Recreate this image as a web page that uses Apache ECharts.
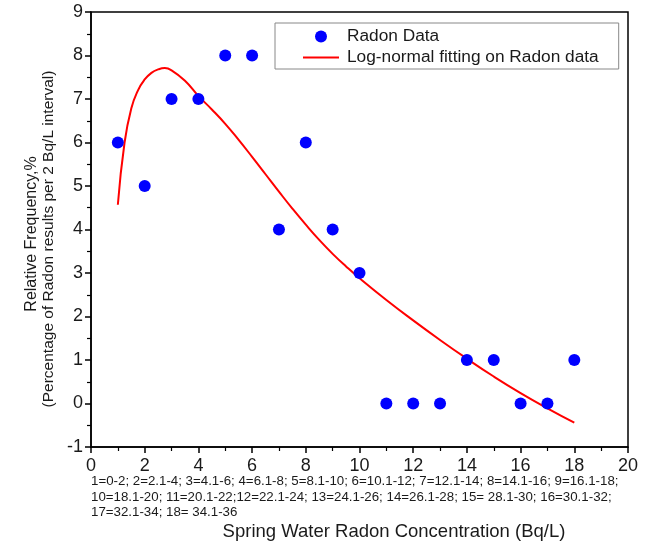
<!DOCTYPE html>
<html>
<head>
<meta charset="utf-8">
<script src="https://cdn.jsdelivr.net/npm/echarts@6/dist/echarts.min.js"></script>
<style>
  html, body { margin: 0; padding: 0; background: #fff; }
  #chart { width: 649px; height: 545px; }
</style>
</head>
<body>
<div id="chart"></div>
<script>
// radon data points (x = interval index, y = relative frequency %)
const binIndex = [1, 2, 3, 4, 5, 6, 7, 8, 9, 10, 11, 12, 13, 14, 15, 16, 17, 18]
const radonFreq = [6, 5, 7, 7, 8, 8, 4, 6, 4, 3, 0, 0, 0, 1, 1, 0, 0, 1]

// log-normal fit
const fitX = [1, 1.25, 1.5, 1.75, 2, 2.25, 2.5, 2.75, 3, 3.5, 4, 4.5, 5, 5.5, 6, 6.5, 7, 7.5, 8, 8.5, 9, 9.5, 10, 11, 12, 13, 14, 15, 16, 17, 18]
const fitY = [4.57, 6.0, 6.78, 7.2, 7.45, 7.6, 7.68, 7.71, 7.66, 7.42, 7.07, 6.76, 6.43, 6.06, 5.67, 5.27, 4.87, 4.48, 4.11, 3.76, 3.44, 3.15, 2.88, 2.38, 1.91, 1.46, 1.03, 0.62, 0.24, -0.11, -0.44]

const yTitle = ["Relative Frequency,%", "(Percentage of Radon results per 2 Bq/L interval)"]
const xTitle = "Spring Water Radon Concentration (Bq/L)"
const footnoteLines = [
  "1=0-2; 2=2.1-4; 3=4.1-6; 4=6.1-8; 5=8.1-10; 6=10.1-12; 7=12.1-14; 8=14.1-16; 9=16.1-18;",
  "10=18.1-20; 11=20.1-22;12=22.1-24; 13=24.1-26; 14=26.1-28; 15= 28.1-30; 16=30.1-32;",
  "17=32.1-34; 18= 34.1-36"
]

const FONT = "Liberation Sans, Arial, sans-serif"
const myChart = echarts.init(document.getElementById("chart"))

const axisCommon = {
  axisLine: { show: true, onZero: false, lineStyle: { color: "#000", width: 1.5 } },
  axisTick: { show: true, inside: false, length: 6, lineStyle: { color: "#000", width: 1.5 } },
  minorTick: { show: true, splitNumber: 2, length: 4, lineStyle: { color: "#000", width: 1.2 } },
  splitLine: { show: false },
  axisLabel: { color: "#1a1a1a", fontSize: 18, fontFamily: FONT }
}

myChart.setOption({
  backgroundColor: "#fff",
  animation: false,
  grid: { left: 91, right: 21, top: 12, bottom: 98, show: true, borderColor: "#000", borderWidth: 1.5 },
  legend: {
    left: 275, top: 23,
    orient: "vertical",
    itemWidth: 36, itemHeight: 12, itemGap: 4,
    padding: [5, 20, 3, 28],
    borderColor: "#888", borderWidth: 1,
    textStyle: { fontSize: 17.3, color: "#1a1a1a", fontFamily: FONT, padding: [0, 0, 0, 3] },
    data: [
      { name: "Radon Data", icon: "circle" },
      { name: "Log-normal fitting on Radon data", icon: "path://M0,0 L36,0 L36,2.2 L0,2.2 Z" }
    ]
  },
  xAxis: Object.assign({}, axisCommon, {
    type: "value", min: 0, max: 20, interval: 2,
    axisLabel: Object.assign({}, axisCommon.axisLabel, { margin: 10 })
  }),
  yAxis: Object.assign({}, axisCommon, {
    type: "value", min: -1, max: 9, interval: 1,
    axisLabel: Object.assign({}, axisCommon.axisLabel, { margin: 8 })
  }),
  graphic: [
    {
      type: "text", x: 32, y: 234, rotation: Math.PI / 2,
      style: { text: yTitle[0], fill: "#1a1a1a", font: "16px " + FONT, align: "center", verticalAlign: "middle" }
    },
    {
      type: "text", x: 49, y: 239, rotation: Math.PI / 2,
      style: { text: yTitle[1], fill: "#1a1a1a", font: "15.5px " + FONT, align: "center", verticalAlign: "middle" }
    },
    {
      type: "text", left: 91, top: 474,
      style: { text: footnoteLines.join("\n"), lineHeight: 15.5, fill: "#1a1a1a", font: "13.3px " + FONT }
    },
    {
      type: "text", x: 394, y: 532,
      style: { text: xTitle, fill: "#1a1a1a", font: "18.5px " + FONT, align: "center", verticalAlign: "middle" }
    }
  ],
  series: [
    {
      name: "Radon Data",
      type: "scatter",
      symbol: "circle",
      symbolSize: 12,
      itemStyle: { color: "#0000ff", opacity: 1 },
      data: binIndex.map((x, i) => [x, radonFreq[i]]),
      z: 3
    },
    {
      name: "Log-normal fitting on Radon data",
      type: "line",
      smooth: 0.5,
      symbol: "none",
      lineStyle: { color: "#ff0000", width: 2 },
      itemStyle: { color: "#ff0000" },
      data: fitX.map((x, i) => [x, fitY[i]]),
      z: 2
    }
  ]
})
</script>
</body>
</html>
